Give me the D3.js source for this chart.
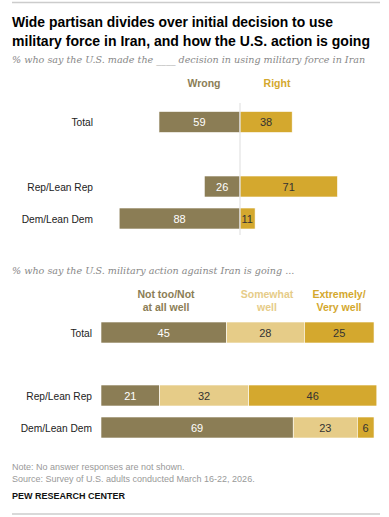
<!DOCTYPE html>
<html lang="en">
<head>
  <meta charset="UTF-8" />
  <title>Iran military force</title>
  <style>
    body { margin: 0; background: #fff; }
    svg text { font-family: "Liberation Sans", Arial, sans-serif; }
    .title { font-weight: bold; font-size: 14.2px; fill: #000; }
    .sub { font-family: "DejaVu Serif", Georgia, serif !important; font-style: italic; font-size: 9.6px; fill: #888; }
    .lab { font-size: 10.2px; fill: #222; }
    .val { font-size: 11px; }
    .hdr { font-weight: bold; font-size: 10.5px; }
    .note { font-size: 9px; fill: #999; }
  </style>
</head>
<body>
  <div id="chart"></div>
  <script src="https://cdn.jsdelivr.net/npm/d3@7"></script>
  <script>
    // decision data
    const groups = ["Total", "Rep/Lean Rep", "Dem/Lean Dem"];
    const wrong = [59, 26, 88];
    const right = [38, 71, 11];

    // how it's going data
    const notWell = [45, 21, 69];
    const somewhat = [28, 32, 23];
    const veryWell = [25, 46, 6];
    const goingCats = ["Not too/Not|at all well", "Somewhat|well", "Extremely/|Very well"];

    const dark = "#8b7d55", gold = "#d4a82e", light = "#e6cc88";

    const W = 389, H = 517;
    const svg = d3.select("#chart").append("svg")
      .attr("width", W).attr("height", H);

    // rules top and bottom
    svg.append("line").attr("x1", 12).attr("x2", 380).attr("y1", 2.5).attr("y2", 2.5)
      .attr("stroke", "#ccc").attr("stroke-width", 1.5);
    svg.append("line").attr("x1", 12).attr("x2", 380).attr("y1", 514).attr("y2", 514)
      .attr("stroke", "#ccc").attr("stroke-width", 1.5);

    // title, stretched a touch to the reference's width
    svg.append("text").attr("class", "title").attr("x", 12).attr("y", 27)
      .attr("textLength", 321).attr("lengthAdjust", "spacingAndGlyphs")
      .text("Wide partisan divides over initial decision to use");
    svg.append("text").attr("class", "title").attr("x", 12).attr("y", 45.5)
      .attr("textLength", 358).attr("lengthAdjust", "spacingAndGlyphs")
      .text("military force in Iran, and how the U.S. action is going");
    svg.append("text").attr("class", "sub").attr("x", 12).attr("y", 63)
      .text("% who say the U.S. made the ____ decision in using military force in Iran");

    // ---- diverging section
    const x1 = d3.scaleLinear().domain([-100, 100]).range([240 - 137.3, 240 + 137.3]);
    const y1 = d3.scaleOrdinal().domain(groups).range([111.5, 176, 208]);
    const bh = 21;

    svg.append("text").attr("class", "hdr").attr("x", 204).attr("y", 87)
      .attr("text-anchor", "middle").attr("fill", dark).text("Wrong");
    svg.append("text").attr("class", "hdr").attr("x", 277).attr("y", 87)
      .attr("text-anchor", "middle").attr("fill", gold).text("Right");

    const g1 = svg.append("g");
    groups.forEach((grp, i) => {
      const y = y1(grp);
      g1.append("text").attr("class", "lab").attr("x", 93).attr("y", y + bh / 2 + 4)
        .attr("text-anchor", "end").text(grp);
      g1.append("rect").attr("x", x1(-wrong[i])).attr("y", y)
        .attr("width", x1(0) - x1(-wrong[i])).attr("height", bh)
        .attr("fill", dark).attr("stroke", "#fff").attr("stroke-width", 0.6);
      g1.append("rect").attr("x", x1(0)).attr("y", y)
        .attr("width", x1(right[i]) - x1(0)).attr("height", bh)
        .attr("fill", gold).attr("stroke", "#fff").attr("stroke-width", 0.6);
      g1.append("text").attr("class", "val").attr("x", (x1(-wrong[i]) + x1(0)) / 2)
        .attr("y", y + bh / 2 + 4).attr("text-anchor", "middle").attr("fill", "#fff").text(wrong[i]);
      const rx = right[i] < 15 ? x1(0) + 1.5 : (x1(0) + x1(right[i])) / 2;
      g1.append("text").attr("class", "val").attr("x", rx)
        .attr("y", y + bh / 2 + 4).attr("text-anchor", right[i] < 15 ? "start" : "middle")
        .attr("fill", "#333").text(right[i]);
    });
    svg.append("line").attr("x1", x1(0)).attr("x2", x1(0)).attr("y1", 103).attr("y2", 235)
      .attr("stroke", "#ddd").attr("stroke-width", 1);

    // ---- stacked section
    svg.append("text").attr("class", "sub").attr("x", 12).attr("y", 274)
      .text("% who say the U.S. military action against Iran is going ...");

    const x2 = d3.scaleLinear().domain([0, 100]).range([101, 101 + 278.6]);
    const y2 = d3.scaleOrdinal().domain(groups).range([322, 385, 417]);
    const series = [notWell, somewhat, veryWell];
    const cols = [dark, light, gold];
    const txtCols = ["#fff", "#333", "#333"];
    const hdrCols = [dark, light, gold];
    const hdrX = [166, 267, 339];

    goingCats.forEach((c, k) => {
      c.split("|").forEach((ln, j) => {
        svg.append("text").attr("class", "hdr").attr("x", hdrX[k]).attr("y", 298 + j * 12.5)
          .attr("text-anchor", "middle").attr("fill", hdrCols[k]).text(ln);
      });
    });

    groups.forEach((grp, i) => {
      const y = y2(grp);
      svg.append("text").attr("class", "lab").attr("x", 92).attr("y", y + bh / 2 + 4)
        .attr("text-anchor", "end").text(grp);
      let acc = 0;
      series.forEach((s, k) => {
        const v = s[i];
        svg.append("rect").attr("x", x2(acc)).attr("y", y)
          .attr("width", x2(acc + v) - x2(acc)).attr("height", bh)
          .attr("fill", cols[k]).attr("stroke", "#fff").attr("stroke-width", 0.6);
        svg.append("text").attr("class", "val").attr("x", (x2(acc) + x2(acc + v)) / 2)
          .attr("y", y + bh / 2 + 4).attr("text-anchor", "middle").attr("fill", txtCols[k]).text(v);
        acc += v;
      });
    });

    svg.append("text").attr("class", "note").attr("x", 12).attr("y", 470)
      .text("Note: No answer responses are not shown.");
    svg.append("text").attr("class", "note").attr("x", 12).attr("y", 482)
      .text("Source: Survey of U.S. adults conducted March 16-22, 2026.");
    svg.append("text").attr("x", 12).attr("y", 499)
      .attr("font-weight", "bold").attr("font-size", "9px").attr("fill", "#111")
      .text("PEW RESEARCH CENTER");
  </script>
</body>
</html>
